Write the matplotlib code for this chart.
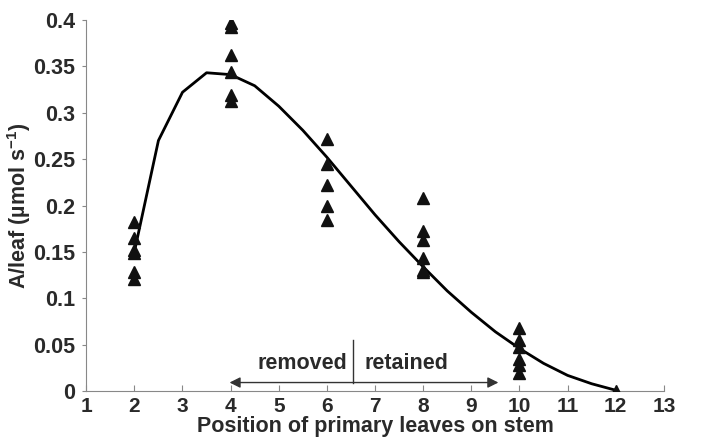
import numpy as np
import matplotlib
matplotlib.use("Agg")
import matplotlib.pyplot as plt

plt.rcParams["font.family"] = ["Liberation Sans", "DejaVu Sans"]
plt.rcParams["mathtext.fontset"] = "custom"
plt.rcParams["mathtext.rm"] = "Liberation Sans:bold"
plt.rcParams["mathtext.default"] = "regular"

# measured points (leaf position -> A per leaf)
pos_x = [2, 2, 2, 2, 2, 2,
         4, 4, 4, 4, 4, 4,
         6, 6, 6, 6, 6,
         8, 8, 8, 8, 8, 8,
         10, 10, 10, 10, 10, 10,
         12]
a_leaf = [0.182, 0.165, 0.152, 0.149, 0.128, 0.121,
          0.397, 0.392, 0.362, 0.344, 0.319, 0.313,
          0.272, 0.245, 0.222, 0.2, 0.184,
          0.208, 0.172, 0.163, 0.143, 0.131, 0.128,
          0.068, 0.055, 0.048, 0.035, 0.028, 0.02,
          0.0]

# fitted curve
fit_x = [2.0, 2.5, 3.0, 3.5, 4.0, 4.5, 5.0, 5.5, 6.0, 6.5, 7.0,
         7.5, 8.0, 8.5, 9.0, 9.5, 10.0, 10.5, 11.0, 11.5, 12.0]
fit_y = [0.15, 0.27, 0.322, 0.343, 0.341, 0.329, 0.307, 0.281, 0.252, 0.221, 0.19,
         0.161, 0.134, 0.108, 0.085, 0.064, 0.046, 0.03, 0.017, 0.008, 0.001]

x_ticks = list(range(1, 14))
y_ticks = [0, 0.05, 0.1, 0.15, 0.2, 0.25, 0.3, 0.35, 0.4]
y_labels = ["0", "0.05", "0.1", "0.15", "0.2", "0.25", "0.3", "0.35", "0.4"]

txt = "#2a2a2a"
fs = 15
fig = plt.figure(figsize=(7.01, 4.41), dpi=100)
ax = fig.add_axes([0.123, 0.113, 0.824, 0.842])

ax.plot(fit_x, fit_y, color="black", lw=2, zorder=2)
ax.plot(pos_x, a_leaf, "^", color="#111111", ms=8.5, zorder=3)

# removed / retained annotation
ax.annotate("", xy=(3.92, 0.0093), xytext=(9.62, 0.0093),
            arrowprops=dict(arrowstyle="<|-|>", color="#333333", lw=1,
                            mutation_scale=16))
ax.plot([6.55, 6.55], [0.0093, 0.055], color="#333333", lw=1)
ax.text(5.5, 0.03, "removed", ha="center", va="center", fontsize=15.5,
        fontweight="bold", color=txt)
ax.text(7.65, 0.03, "retained", ha="center", va="center", fontsize=15.5,
        fontweight="bold", color=txt)

ax.set_xlim(1, 13)
ax.set_ylim(0, 0.4)
ax.set_xticks(x_ticks)
ax.set_yticks(y_ticks)
ax.set_yticklabels(y_labels)
for s in ["top", "right"]:
    ax.spines[s].set_visible(False)
for s in ["left", "bottom"]:
    ax.spines[s].set_color("#888888")
ax.tick_params(axis="x", direction="in", length=4, color="#888888",
               labelsize=fs, labelcolor=txt, pad=4)
ax.tick_params(axis="y", direction="out", length=3, color="#888888",
               labelsize=15.5, labelcolor=txt, pad=5)
for lab in ax.get_xticklabels() + ax.get_yticklabels():
    lab.set_fontweight("bold")

ax.set_xlabel("Position of primary leaves on stem", fontsize=15.5,
              fontweight="bold", color=txt, labelpad=0)
ax.set_ylabel("A/leaf (µmol s$^{-1}$)", fontsize=15.5, fontweight="bold",
              color=txt)
ax.yaxis.set_label_coords(-0.093, 0.5)

fig.savefig("out.png", dpi=100)
